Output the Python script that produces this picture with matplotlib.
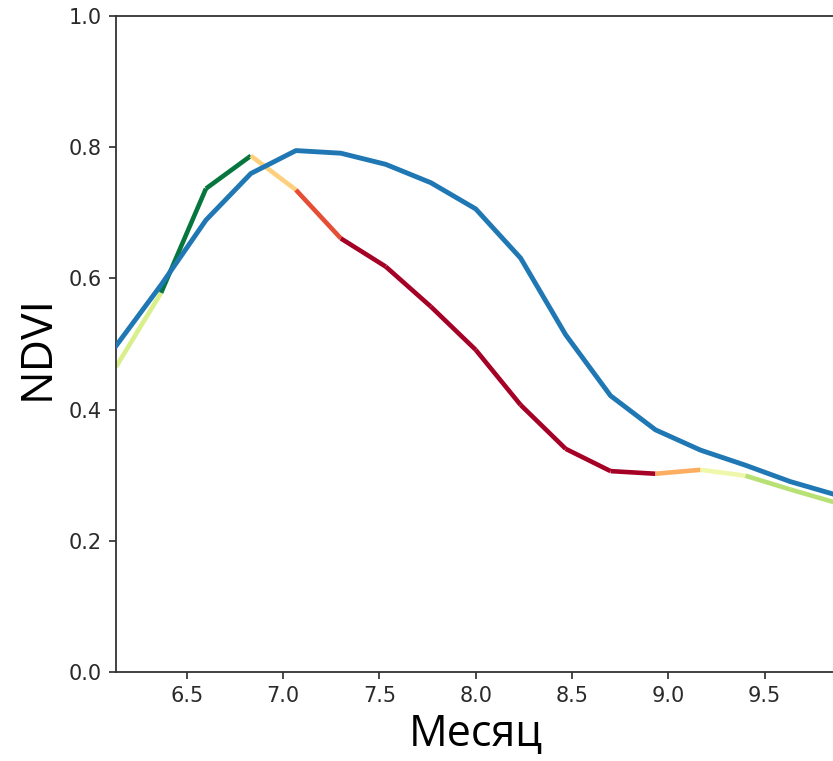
import matplotlib
matplotlib.use("Agg")
import matplotlib.pyplot as plt
import numpy as np
from matplotlib.collections import LineCollection

# Data
month = [6.133, 6.367, 6.600, 6.833, 7.067, 7.300, 7.533, 7.767, 8.000,
         8.233, 8.467, 8.700, 8.933, 9.167, 9.400, 9.633, 9.867]
ndvi_blue = [0.497, 0.590, 0.689, 0.760, 0.795, 0.791, 0.774, 0.746, 0.706,
             0.631, 0.514, 0.421, 0.369, 0.338, 0.315, 0.290, 0.270]
ndvi_colored = [0.465, 0.578, 0.737, 0.787, 0.735, 0.661, 0.618, 0.557, 0.491,
                0.407, 0.340, 0.306, 0.302, 0.308, 0.299, 0.278, 0.258]
# colour value (RdYlGn colormap) for each segment of the coloured line
segment_value = [0.60, 0.97, 0.97, 0.37, 0.15, 0.0, 0.0, 0.0, 0.0,
                 0.0, 0.0, 0.0, 0.30, 0.54, 0.665, 0.665]
xticks = [6.5, 7.0, 7.5, 8.0, 8.5, 9.0, 9.5]
yticks = [0.0, 0.2, 0.4, 0.6, 0.8, 1.0]

W, H = 833, 761
fig = plt.figure(figsize=(W / 100, H / 100), dpi=100)
left, right, top, bottom = 116, 835.4, 16.2, 671.7
ax = fig.add_axes([left / W, 1 - bottom / H, (right - left) / W, (bottom - top) / H])

pts = np.column_stack([month, ndvi_colored])
segs = np.stack([pts[:-1], pts[1:]], axis=1)
cmap = plt.get_cmap("RdYlGn")
lc = LineCollection(segs, colors=[cmap(v) for v in segment_value],
                    linewidths=3.3, capstyle="butt", zorder=2)
ax.add_collection(lc)
ax.plot(month, ndvi_blue, color="#1f77b4", linewidth=3.5, zorder=3)

ax.set_xlim(month[0], month[-1])
ax.set_ylim(0, 1.0)
ax.set_xticks(xticks)
ax.set_yticks(yticks)
ax.set_xticklabels([f"{t:.1f}" for t in xticks])
ax.set_yticklabels([f"{t:.1f}" for t in yticks])
ax.tick_params(labelsize=15, length=5.2, width=1.2, pad=5, colors="#2a2a2a")
for s in ["left", "bottom", "top"]:
    ax.spines[s].set_linewidth(1.3)
    ax.spines[s].set_color("#333333")
ax.spines["right"].set_visible(False)

fam = ["Open Sans", "DejaVu Sans"]
fig.text((left + right) / 2 / W, 1 - 746 / H, "Месяц", ha="center", va="baseline",
         fontsize=31, family=fam, color="black")
fig.text(37 / W, 1 - 347 / H, "NDVI", ha="center", va="center", rotation=90,
         fontsize=32, family=fam, color="black")

fig.savefig("out.png", dpi=100)
